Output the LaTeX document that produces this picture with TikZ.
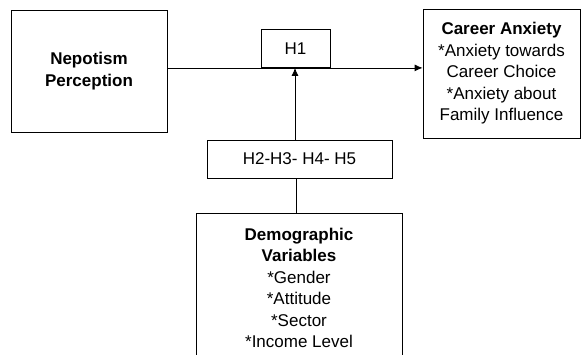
\documentclass[tikz,border=0pt]{standalone}
\usepackage{fontspec}
\setmainfont{Liberation Sans}
\usetikzlibrary{arrows.meta}

\begin{document}
\begin{tikzpicture}[x=1pt,y=-1pt,
  box/.style={draw,line width=0.8pt,align=center,inner sep=0pt,
    font=\fontsize{17}{21.5}\selectfont},
  link/.style={line width=0.8pt},
  arrowlink/.style={link,-{Latex[length=8pt,width=7pt]}}]
\useasboundingbox (0,0) rectangle (581,354);
\clip (0,0) rectangle (581,354);
\node[box,minimum width=156pt,minimum height=122pt] (nepotism) at (89,71)
  {\textbf{Nepotism}\\\textbf{Perception}};
\node[box,minimum width=69pt,minimum height=38pt] (hone) at (295.5,48.5) {H1};
\node[box,minimum width=157pt,minimum height=129pt] (career) at (501.5,73.5)
  {\textbf{Career Anxiety}\\*Anxiety towards\\Career Choice\\*Anxiety about\\Family Influence};
\node[box,minimum width=185pt,minimum height=38pt] (hrest) at (299.5,159) {H2-H3- H4- H5};
\node[box,minimum width=206pt,minimum height=150pt] (demo) at (299,288)
  {\textbf{Demographic}\\\textbf{Variables}\\*Gender\\*Attitude\\*Sector\\*Income Level};
\draw[arrowlink] (nepotism.east |- hone.south) -- (career.west |- hone.south);
\draw[arrowlink] (hrest.north -| 295,0) -- (hone.south -| 295,0);
\draw[link] (demo.north -| 296,0) -- (hrest.south -| 296,0);
\end{tikzpicture}
\end{document}
